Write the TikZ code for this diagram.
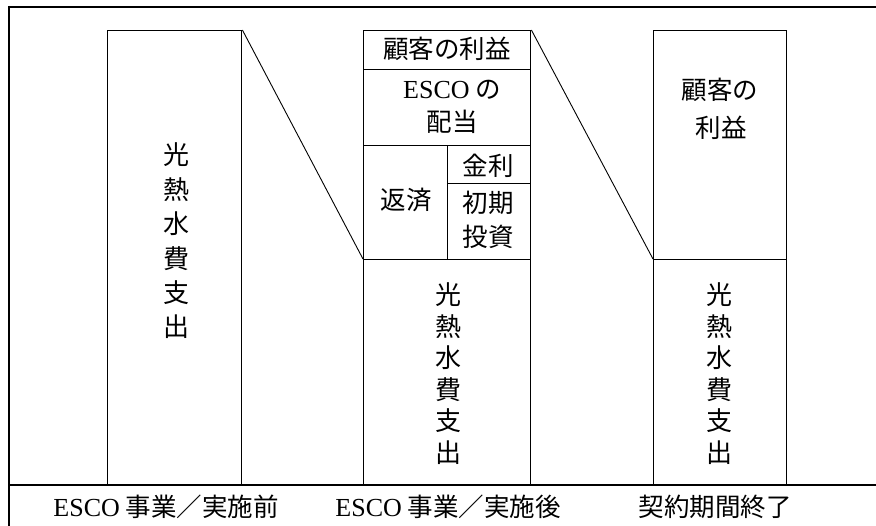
\documentclass[tikz,border=0pt]{standalone}
\usepackage{fontspec}
\setmainfont{Liberation Serif}
\newfontfamily\jp{Noto Sans CJK JP}
\begin{document}
\begin{tikzpicture}[x=1pt,y=-1pt,
  cell/.style={draw,line width=1.4pt,inner sep=0pt,anchor=north west},
  txt/.style={inner sep=0pt,font=\jp\fontsize{25.5}{25.5}\selectfont,align=center},
  vtxt/.style={inner sep=0pt,align=center},
  slant/.style={line width=0.9pt}]
\useasboundingbox (0,0) rectangle (876,526);
% frame
\draw[line width=2.6pt] (9,7) -- (876,7);
\draw[line width=1.6pt] (9,6) -- (9,526);
\draw[line width=2.6pt] (9,485) -- (876,485);
% box 1
\node[cell,minimum width=134pt,minimum height=455pt] (b1) at (107,30) {};
% box 2
\node[cell,minimum width=167pt,minimum height=39pt] (b2a) at (363,30) {};
\node[cell,minimum width=167pt,minimum height=76pt] (b2b) at (363,69) {};
\node[cell,minimum width=84pt,minimum height=114pt] (b2c) at (363,145) {};
\node[cell,minimum width=83pt,minimum height=38pt] (b2d) at (447,145) {};
\node[cell,minimum width=83pt,minimum height=76pt] (b2e) at (447,183) {};
\node[cell,minimum width=167pt,minimum height=226pt] (b2f) at (363,259) {};
% box 3
\node[cell,minimum width=133pt,minimum height=229pt] (b3a) at (653,30) {};
\node[cell,minimum width=133pt,minimum height=226pt] (b3b) at (653,259) {};
% slanted connectors
\draw[slant] (b1.north east) -- (b2f.north west);
\draw[slant] (b2a.north east) -- (b3b.north west);
% texts
\node[vtxt,font=\jp\fontsize{26}{34.4}\selectfont] (t1) at (176,241) {光\\熱\\水\\費\\支\\出};
\node[vtxt,font=\jp\fontsize{26}{31.5}\selectfont] (t2) at (448,373.5) {光\\熱\\水\\費\\支\\出};
\node[vtxt,font=\jp\fontsize{26}{31.5}\selectfont] (t3) at (719,373.5) {光\\熱\\水\\費\\支\\出};
\node[txt] (t4) at (447,49) {顧客の利益};
\node[txt] (t5) at (452,90) {{\rmfamily\fontsize{26}{26}\selectfont ESCO} の};
\node[txt] (t6) at (452,122) {配当};
\node[txt] (t7) at (406,200) {返済};
\node[txt] (t8) at (488,166) {金利};
\node[txt] (t9) at (488,203) {初期};
\node[txt] (t10) at (488,237) {投資};
\node[txt] (t11) at (720,90) {顧客の};
\node[txt] (t12) at (721,128) {利益};
\node[txt] (l1) at (166,507) {{\rmfamily\fontsize{26}{26}\selectfont ESCO} 事業／実施前};
\node[txt] (l2) at (448,507) {{\rmfamily\fontsize{26}{26}\selectfont ESCO} 事業／実施後};
\node[txt] (l3) at (715,507) {契約期間終了};
\end{tikzpicture}
\end{document}
